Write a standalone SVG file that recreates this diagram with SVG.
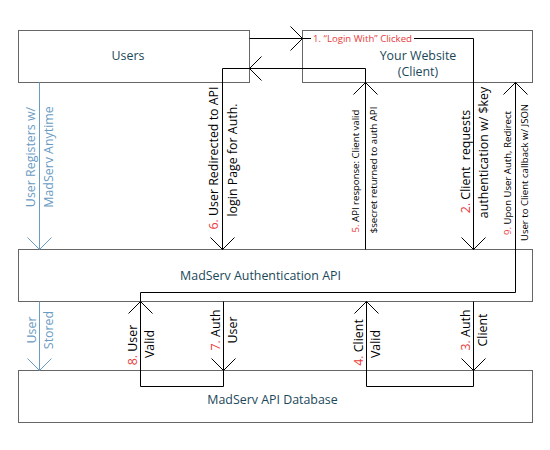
<svg xmlns="http://www.w3.org/2000/svg" xmlns:xlink="http://www.w3.org/1999/xlink" width="550" height="450" viewBox="0 0 550 450">
<style>
  text { font-family: "Open Sans", "DejaVu Sans", sans-serif; }
  .box { fill: #ffffff; stroke: #666666; stroke-width: 1; }
  .bl { font-size: 12.4px; fill: #1a4859; text-anchor: middle; }
  .edge { fill: none; stroke: #000000; stroke-width: 1; }
  .blue { fill: none; stroke: #6a9bc3; stroke-width: 1; }
  .lab { font-size: 12.4px; fill: #000000; text-anchor: middle; }
  .sm { font-size: 9.6px; fill: #000000; text-anchor: middle; }
  .bt { font-size: 12.4px; fill: #6a9bc3; text-anchor: middle; }
  .red { fill: #ea3b3b; }
</style>
<defs>
  <path id="ah" d="M-12,-12 L0,0 L-12,12"/>
</defs>
<rect width="550" height="450" fill="#ffffff"/>

<g id="node-users">
  <rect class="box" x="18.5" y="30.5" width="231" height="52"/>
  <text class="bl" x="128" y="59.5">Users</text>
</g>
<g id="node-website">
  <rect class="box" x="302.5" y="30.5" width="230" height="52"/>
  <text class="bl" x="418" y="59.5">Your Website</text>
  <text class="bl" x="418" y="75.5">(Client)</text>
</g>
<g id="node-api">
  <rect class="box" x="18.5" y="249.5" width="514" height="52"/>
  <text class="bl" x="260.5" y="279.5">MadServ Authentication API</text>
</g>
<g id="node-db">
  <rect class="box" x="18.5" y="370.5" width="514" height="52"/>
  <text class="bl" x="272.5" y="403.5">MadServ API Database</text>
</g>

<g id="connectors">
  <!-- blue -->
  <path class="blue" d="M39.5,82.5 V249.5"/>
  <use xlink:href="#ah" class="blue" transform="translate(39.5,249.5) rotate(90)"/>
  <path class="blue" d="M39.5,301.5 V370.5"/>
  <use xlink:href="#ah" class="blue" transform="translate(39.5,370.5) rotate(90)"/>

  <!-- 1 & 2 -->
  <path class="edge" d="M249.5,38.5 H473.5 V249.5"/>
  <use xlink:href="#ah" class="edge" transform="translate(302.5,38.5)"/>
  <use xlink:href="#ah" class="edge" transform="translate(473.5,249.5) rotate(90)"/>

  <!-- 5 & 6 -->
  <path class="edge" d="M365.5,249.5 V68.5 H222.5 V249.5"/>
  <use xlink:href="#ah" class="edge" transform="translate(365.5,82.5) rotate(-90)"/>
  <use xlink:href="#ah" class="edge" transform="translate(249.5,68.5) rotate(180)"/>
  <use xlink:href="#ah" class="edge" transform="translate(222.5,249.5) rotate(90)"/>

  <!-- 9, 8, 7 -->
  <path class="edge" d="M515.5,82.5 V292.5 H140.5 V386.5 H223.5 V301.5"/>
  <use xlink:href="#ah" class="edge" transform="translate(515.5,82.5) rotate(-90)"/>
  <use xlink:href="#ah" class="edge" transform="translate(140.5,301.5) rotate(-90)"/>
  <use xlink:href="#ah" class="edge" transform="translate(223.5,370.5) rotate(90)"/>

  <!-- 4 & 3 -->
  <path class="edge" d="M366.5,301.5 V386.5 H473.5 V301.5"/>
  <use xlink:href="#ah" class="edge" transform="translate(366.5,301.5) rotate(-90)"/>
  <use xlink:href="#ah" class="edge" transform="translate(473.5,370.5) rotate(90)"/>

  <!-- labels -->
  <rect x="311" y="32" width="103" height="13" fill="#ffffff"/>
  <text class="sm" x="362.5" y="41.8"><tspan class="red">1. “Login With” Clicked</tspan></text>

  <text class="bt" transform="translate(34.5,157) rotate(-90)">User Registers w/</text>
  <text class="bt" transform="translate(52.5,157) rotate(-90)">MadServ Anytime</text>

  <text class="lab" transform="translate(217.5,158) rotate(-90)"><tspan class="red">6.</tspan> User Redirected to API</text>
  <text class="lab" transform="translate(236.5,160) rotate(-90)">login Page for Auth.</text>

  <text class="sm" transform="translate(358.5,171) rotate(-90)"><tspan class="red">5.</tspan> API response: Client valid</text>
  <text class="sm" transform="translate(376.5,170) rotate(-90)">$secret returned to auth API</text>

  <text class="lab" xml:space="preserve" transform="translate(469.5,161.5) rotate(-90)"><tspan class="red">2.</tspan> Client  requests</text>
  <text class="lab" transform="translate(487.5,152.5) rotate(-90)">authentication w/ $key</text>

  <text class="sm" transform="translate(510.5,173) rotate(-90)"><tspan class="red">9.</tspan> Upon User Auth, Redirect</text>
  <text class="sm" transform="translate(527.5,172.5) rotate(-90)">User to Client callback w/ JSON</text>

  <text class="bt" transform="translate(35.5,330) rotate(-90)">User</text>
  <text class="bt" transform="translate(52.5,330) rotate(-90)">Stored</text>

  <text class="lab" transform="translate(136.5,345) rotate(-90)"><tspan class="red">8.</tspan> User</text>
  <text class="lab" transform="translate(153.5,344) rotate(-90)">Valid</text>

  <text class="lab" transform="translate(219.5,330) rotate(-90)"><tspan class="red">7.</tspan> Auth</text>
  <text class="lab" transform="translate(236.5,330) rotate(-90)">User</text>

  <text class="lab" transform="translate(362.5,342.5) rotate(-90)"><tspan class="red">4.</tspan> Client</text>
  <text class="lab" transform="translate(379.5,344) rotate(-90)">Valid</text>

  <text class="lab" transform="translate(469.5,330) rotate(-90)"><tspan class="red">3.</tspan> Auth</text>
  <text class="lab" transform="translate(486.5,330) rotate(-90)">Client</text>
</g>
</svg>
